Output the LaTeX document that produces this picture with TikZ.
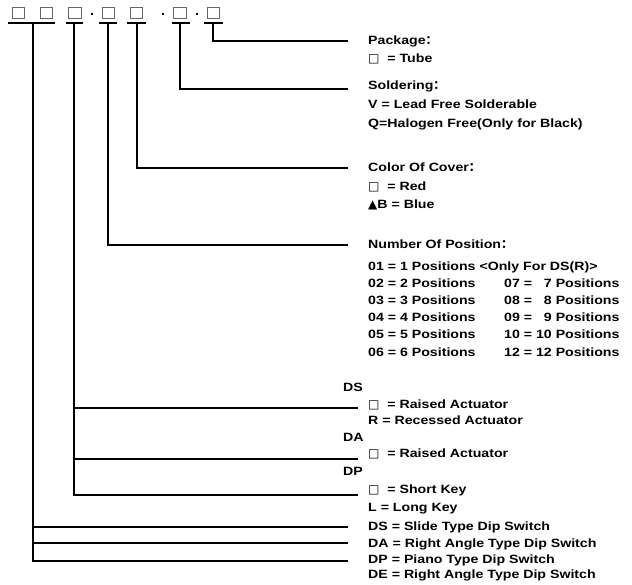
\documentclass[tikz,border=0pt]{standalone}
\usepackage{fontspec}
\setmainfont{Liberation Sans}[FakeStretch=1.18]
\newfontfamily\cjk{Noto Sans CJK SC}
\newfontfamily\symf{DejaVu Sans}
\usetikzlibrary{positioning}

\newcommand{\fcolon}{{\cjk ：}}
\newcommand{\opsq}{{\symf\mdseries □}}
\newcommand{\optri}{{\symf ▲}}

\begin{document}
\begin{tikzpicture}[
  x=1pt, y=-1pt,
  every node/.style={font=\bfseries\fontsize{12}{14}\selectfont},
  slot/.style={draw=black!60, line width=0.8pt, minimum width=12.5pt,
               minimum height=11.5pt, inner sep=0pt},
  hyph/.style={fill=black, minimum width=2.6pt, minimum height=2.2pt, inner sep=0pt},
  uline/.style={line width=1.7pt},
  wire/.style={line width=1.3pt},
  txt/.style={anchor=base west, inner sep=0pt},
]
  \useasboundingbox (0,0) rectangle (632,585);

  % part number slots
  \node[slot] (b1) at (18.5,13) {};
  \node[slot] (b2) at (46.5,13) {};
  \node[slot] (b3) at (75,13) {};
  \node[hyph] (h1) at (92,14) {};
  \node[slot] (b4) at (108.5,13) {};
  \node[slot] (b5) at (136.5,13) {};
  \node[hyph] (h2) at (163,14) {};
  \node[slot] (b6) at (180,13) {};
  \node[hyph] (h3) at (197,14) {};
  \node[slot] (b7) at (213.5,13) {};

  \draw[uline] (8,23) -- (55,23);
  \draw[uline] (66,23) -- (83,23);
  \draw[uline] (99,23) -- (117,23);
  \draw[uline] (127,23) -- (146,23);
  \draw[uline] (172,23) -- (190,23);
  \draw[uline] (204,23) -- (223,23);

  \coordinate (u1) at (33,23);
  \coordinate (u2) at (74,23);
  \coordinate (u3) at (108,23);
  \coordinate (u4) at (137,23);
  \coordinate (u5) at (180,23);
  \coordinate (u6) at (213,23);

  % package
  \node[txt] (pkg)  at (368,44.5) {Package\fcolon};
  \node[txt] (pkg1) at (368,63) {\opsq\ \ = Tube};
  % soldering
  \node[txt] (sol)  at (368,90) {Soldering\fcolon};
  \node[txt] (sol1) at (368,109) {V = Lead Free Solderable};
  \node[txt] (sol2) at (368,128) {Q=Halogen Free(Only for Black)};
  % color of cover
  \node[txt] (col)  at (368,172) {Color Of Cover\fcolon};
  \node[txt] (col1) at (368,191) {\opsq\ \ = Red};
  \node[txt] (col2) at (368,209) {\optri B = Blue};
  % number of position
  \node[txt] (pos)  at (368,249) {Number Of Position\fcolon};
  \node[txt] (pos1) at (368,271) {01 = 1 Positions <Only For DS(R)>};
  \node[txt] (pos2) at (368,288) {02 = 2 Positions};
  \node[txt] (pos3) at (368,305) {03 = 3 Positions};
  \node[txt] (pos4) at (368,322) {04 = 4 Positions};
  \node[txt] (pos5) at (368,338.5) {05 = 5 Positions};
  \node[txt] (pos6) at (368,356) {06 = 6 Positions};
  \node[txt] (pos7) at (504,288) {07 = \phantom{0}7 Positions};
  \node[txt] (pos8) at (504,305) {08 = \phantom{0}8 Positions};
  \node[txt] (pos9) at (504,322) {09 = \phantom{0}9 Positions};
  \node[txt] (pos10) at (504,338.5) {10 = 10 Positions};
  \node[txt] (pos12) at (504,356) {12 = 12 Positions};
  % actuator / key
  \node[txt] (ds)  at (343,391) {DS};
  \node[txt] (ds1) at (368,408) {\opsq\ \ = Raised Actuator};
  \node[txt] (ds2) at (368,424.5) {R = Recessed Actuator};
  \node[txt] (da)  at (343,441) {DA};
  \node[txt] (da1) at (368,457.5) {\opsq\ \ = Raised Actuator};
  \node[txt] (dp)  at (343,475) {DP};
  \node[txt] (dp1) at (368,493) {\opsq\ \ = Short Key};
  \node[txt] (dp2) at (368,511) {L = Long Key};
  % series
  \node[txt] (ty1) at (368,530) {DS = Slide Type Dip Switch};
  \node[txt] (ty2) at (368,547) {DA = Right Angle Type Dip Switch};
  \node[txt] (ty3) at (368,563) {DP = Piano Type Dip Switch};
  \node[txt] (ty4) at (368,578) {DE = Right Angle Type Dip Switch};

  % line ends
  \coordinate (epkg) at (348,41);
  \coordinate (esol) at (348,89);
  \coordinate (ecol) at (348,168);
  \coordinate (epos) at (348,245);
  \coordinate (eds)  at (358,408);
  \coordinate (eda)  at (358,459);
  \coordinate (edp)  at (358,495);
  \coordinate (ety1) at (348,527);
  \coordinate (ety2) at (348,543);
  \coordinate (ety3) at (348,561);

  \draw[wire] (u6) |- (epkg);
  \draw[wire] (u5) |- (esol);
  \draw[wire] (u4) |- (ecol);
  \draw[wire] (u3) |- (epos);
  \draw[wire] (u2) |- (edp);
  \draw[wire] (u2 |- eds) -- (eds);
  \draw[wire] (u2 |- eda) -- (eda);
  \draw[wire] (u1) |- (ety3);
  \draw[wire] (u1 |- ety1) -- (ety1);
  \draw[wire] (u1 |- ety2) -- (ety2);
\end{tikzpicture}
\end{document}
